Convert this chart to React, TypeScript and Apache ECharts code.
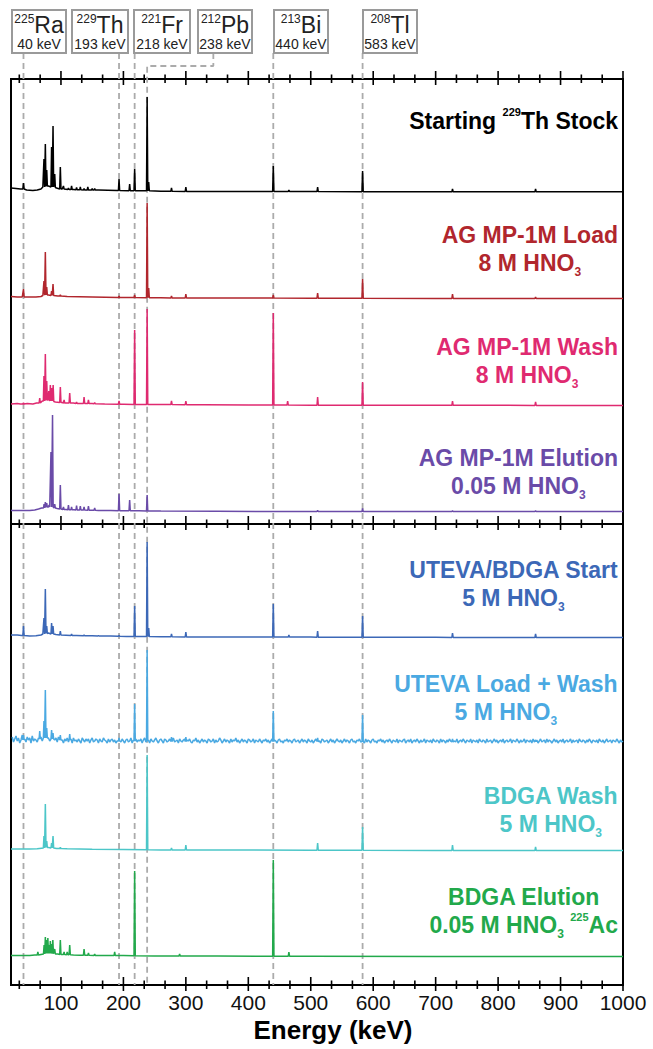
import React, { useEffect, useRef } from 'react';
import * as echarts from 'echarts';

const FONT = '"Liberation Sans", Arial, Helvetica, sans-serif';

// ---------- axis ----------
const energyMin = 20;
const energyMax = 1000;
const tickValues = [100, 200, 300, 400, 500, 600, 700, 800, 900, 1000];
const minorTickValues = [33.3, 66.7, 133.3, 166.7, 233.3, 266.7, 333.3, 366.7, 433.3, 466.7, 533.3, 566.7, 633.3, 666.7, 733.3, 766.7, 833.3, 866.7, 933.3, 966.7];
const axisTitle = 'Energy (keV)';

// ---------- reference lines / boxes ----------
const markerEnergies = [40, 193, 218, 238, 440, 583];
const markerMass = ['225', '229', '221', '212', '213', '208'];
const markerSymbol = ['Ra', 'Th', 'Fr', 'Pb', 'Bi', 'Tl'];
const pbLeaderEnergy = 344;

// ---------- spectra: background points [keV, rel. counts] and peaks [keV, local base, top] ----------
type Pt = [number, number];
type Peak = [number, number, number];

const stockBg: Pt[] = [[20, 4], [28, 3.5], [35, 3], [45, 2], [55, 1.5], [62, 2], [68, 3], [71, 5], [80, 6], [93, 4], [102, 3], [120, 2.5], [160, 2], [190, 1.5], [230, 1.2], [260, 0.8], [320, 0.5], [450, 0.4], [600, 0.3], [800, 0.2], [1000, 0.2]];
const stockPeaks: Peak[] = [[40, 3, 9], [72.8, 5, 33], [75, 5.5, 48], [77.2, 6, 22], [85, 5, 45], [87.3, 5, 66], [90, 4.5, 18], [99, 3, 25], [104, 3, 6], [112, 2.5, 4], [117, 2.5, 6], [125, 2.3, 4.5], [131, 2.2, 5], [137, 2.1, 3.5], [143, 2, 5], [150, 2, 3.5], [154, 2, 3.5], [193, 1.5, 13], [210, 1.3, 8], [218, 1.3, 23], [238, 1.2, 95], [240.5, 1.2, 10], [277, 0.7, 4], [300, 0.6, 5], [440, 0.4, 26], [465, 0.4, 2], [511, 0.4, 5], [583, 0.3, 21], [727, 0.2, 3], [860, 0.2, 3]];

const loadBg: Pt[] = [[20, 2.5], [30, 2], [38, 2], [50, 2], [60, 2], [68, 2.5], [71, 3.5], [80, 4], [95, 3], [110, 2.5], [150, 2], [200, 1.5], [260, 1.2], [350, 1], [500, 0.8], [700, 0.6], [1000, 0.5]];
const loadPeaks: Peak[] = [[40, 2, 10], [72.8, 3.8, 18], [75, 4, 47], [77.2, 4, 12], [85, 3.5, 8], [87.3, 3.5, 15], [99, 3, 4], [193, 1.5, 3], [218, 1.4, 4], [238, 1.3, 96], [240.5, 1.3, 11], [277, 1.1, 3], [300, 1, 5], [440, 0.9, 4], [511, 0.8, 6], [583, 0.7, 20], [727, 0.6, 5], [860, 0.5, 2]];

const washBg: Pt[] = [[20, 2], [30, 2.5], [35, 2], [46, 2.5], [55, 2], [61, 3], [70, 5], [91, 4], [102, 3.5], [109, 3], [120, 3], [130, 2.5], [150, 2.5], [170, 2], [200, 1.8], [228, 1.5], [260, 1.5], [330, 1.2], [400, 1], [500, 0.8], [700, 0.7], [1000, 0.6]];
const washPeaks: Peak[] = [[40, 2, 3], [66, 3, 8], [72.8, 5, 30], [75, 5.5, 52], [77.2, 6, 25], [80.5, 6, 15], [83, 5, 21], [85.3, 5, 18], [87.5, 4.5, 21], [99, 3.5, 19], [105, 3, 6], [114, 3, 13], [125, 2.5, 4], [137, 2.5, 9], [144, 2.5, 6], [154, 2.2, 3.5], [193, 1.8, 5], [218, 1.6, 76], [238, 1.5, 97], [277, 1.4, 5], [300, 1.3, 5], [440, 1, 93], [463, 0.9, 5], [511, 0.8, 9], [583, 0.8, 24], [727, 0.7, 5], [860, 0.6, 4]];

const elutionBg: Pt[] = [[20, 1.5], [35, 1.5], [50, 1.5], [58, 2], [64, 3], [69, 4], [79, 5.5], [94, 3.5], [108, 2.5], [121, 2.2], [160, 1.6], [180, 1.5], [200, 1.3], [225, 1.2], [260, 0.9], [350, 0.7], [500, 0.5], [700, 0.4], [1000, 0.4]];
const elutionPeaks: Peak[] = [[73, 4, 8], [75, 4.5, 10], [77.2, 5, 9], [81, 5, 7], [84, 5, 60], [86.5, 5, 97], [90, 4, 8], [99, 3, 27], [104, 2.5, 5], [112, 2.2, 7], [117, 2.2, 5], [125, 2, 6.5], [131, 2, 6], [137, 2, 5], [144, 1.8, 6], [154, 1.7, 4], [193, 1.3, 18], [210, 1.2, 12], [238, 1.1, 17], [511, 0.5, 1.8], [583, 0.5, 3.5], [727, 0.4, 1.2], [860, 0.4, 1.2]];

const utevaStartBg: Pt[] = [[20, 3], [30, 3], [37, 2.5], [50, 2], [60, 2.2], [68, 3], [71, 4], [80, 5], [92, 3.5], [108, 2.8], [125, 2.5], [150, 2.2], [180, 1.9], [205, 1.6], [228, 1.5], [260, 1.3], [350, 1], [500, 0.9], [700, 0.7], [1000, 0.5]];
const utevaStartPeaks: Peak[] = [[40, 2.5, 12], [72.8, 4, 20], [75, 4.5, 49], [77.2, 4.5, 12], [85, 4, 15], [87.3, 4, 12], [99, 3, 7], [117, 2.5, 4], [137, 2.2, 3], [160, 2, 2.5], [193, 1.7, 2.5], [218, 1.5, 32], [238, 1.4, 96], [240.5, 1.4, 10], [277, 1.2, 4], [300, 1.1, 6], [440, 0.9, 34], [465, 0.9, 3], [511, 0.8, 7], [583, 0.7, 22], [727, 0.6, 5], [860, 0.5, 4]];

// noisy Load + Wash trace, channels every 2 keV starting at 22 keV
const utevaLoadNoiseStart = 22;
const utevaLoadNoiseStep = 2;
const utevaLoadNoise = [
  6, 1, 4, 7, 2, 5, 0, 3, 8, 2, 4, 1, 6, 3, 5, 0, 7, 2, 4, 3,
  1, 5, 3, 6, 2, 4, 7, 1, 3, 5, 2, 6, 0, 4, 3, 5, 1, 6, 2, 4,
  3, 0, 4, 2, 5, 1, 3, 4, 0, 5, 2, 3, 1, 4, 2, 0, 5, 3, 1, 4,
  2, 4, 0, 3, 5, 1, 2, 4, 3, 0, 4, 2, 1, 5, 3, 2, 0, 4, 1, 3,
  4, 1, 3, 0, 2, 5, 3, 1, 4, 2, 0, 3, 4, 1, 2, 5, 0, 3, 2, 4,
  1, 3, 2, 4, 0, 3, 5, 1, 2, 3, 0, 4, 2, 1, 3, 5, 2, 0, 3, 4,
  2, 0, 4, 3, 1, 2, 4, 0, 3, 5, 1, 2, 3, 0, 4, 2, 1, 3, 4, 0,
  3, 2, 4, 1, 0, 3, 2, 5, 1, 3, 0, 2, 4, 1, 3, 2, 0, 4, 3, 1,
  2, 4, 0, 3, 1, 2, 5, 3, 0, 2, 4, 1, 3, 2, 0, 4, 1, 3, 2, 5,
  1, 3, 0, 2, 4, 1, 3, 2, 0, 4, 3, 1, 2, 4, 0, 3, 2, 1, 4, 2,
  0, 3, 2, 4, 1, 3, 0, 2, 4, 1, 3, 2, 0, 3, 4, 1, 2, 0, 3, 2,
  4, 1, 3, 2, 0, 3, 4, 1, 2, 3, 0, 2, 4, 1, 3, 2, 0, 4, 2, 1,
  3, 0, 2, 4, 1, 3, 2, 0, 4, 3, 1, 2, 3, 0, 2, 4, 1, 3, 0, 2,
  4, 2, 1, 3, 0, 2, 4, 1, 3, 2, 0, 3, 4, 1, 2, 0, 3, 2, 4, 1,
  2, 3, 0, 4, 1, 3, 2, 0, 3, 4, 1, 2, 0, 3, 2, 4, 1, 3, 0, 2,
  3, 1, 4, 2, 0, 3, 2, 1, 4, 0, 3, 2, 1, 3, 4, 0, 2, 3, 1, 4,
  0, 2, 3, 1, 4, 2, 0, 3, 1, 2, 4, 0, 3, 2, 1, 3, 0, 4, 2, 1,
  3, 2, 0, 4, 1, 3, 2, 0, 3, 1, 4, 2, 0, 3, 2, 1, 4, 0, 2, 3,
  1, 4, 2, 0, 3, 2, 1, 4, 0, 3, 2, 1, 3, 0, 4, 2, 1, 3, 2, 0,
  4, 1, 2, 3, 0, 2, 4, 1, 3, 0, 2, 3, 1, 4, 0, 2, 3, 1, 2, 4,
  0, 3, 2, 1, 4, 2, 0, 3, 1, 2, 4, 0, 3, 2, 1, 3, 0, 4, 1, 2,
  3, 0, 2, 4, 1, 2, 3, 0, 4, 1, 3, 2, 0, 2, 4, 1, 3, 0, 2, 3,
  1, 4, 0, 2, 3, 1, 2, 4, 0, 3, 1, 2, 3, 0, 4, 2, 1, 3, 2, 0,
  3, 1, 4, 2, 0, 3, 2, 1, 3, 0, 4, 2, 1, 3, 0, 2, 4, 1, 2, 3,
  0, 3, 2, 1, 4, 2, 0, 3, 1, 2,
];
const utevaLoadPeaks: Peak[] = [[40, 3, 8], [66, 4, 12], [72.8, 5, 22], [75, 5, 53], [77.2, 5, 15], [85, 4, 13], [87.3, 4, 10], [99, 3, 8], [114, 3, 9], [193, 2, 5], [218, 2, 39], [238, 2, 93], [277, 1.5, 6], [300, 1.5, 6], [440, 1.5, 32], [511, 1.5, 5], [583, 1.5, 28], [727, 1.2, 4], [860, 1.2, 3]];

const bdgaWashBg: Pt[] = [[20, 2], [35, 2], [50, 2], [62, 2.2], [69, 2.8], [80, 3.5], [93, 2.5], [110, 2.2], [150, 1.8], [200, 1.5], [260, 1.1], [350, 1], [500, 0.8], [700, 0.6], [1000, 0.5]];
const bdgaWashPeaks: Peak[] = [[72.8, 3, 15], [75, 3.5, 47], [77.2, 3.5, 10], [85, 3, 8], [87.3, 3, 15], [99, 2.5, 3.5], [238, 1.2, 96], [277, 1, 3], [300, 1, 6], [511, 0.8, 8], [583, 0.7, 24], [727, 0.6, 6], [860, 0.5, 4]];

const bdgaElutionBg: Pt[] = [[20, 1.5], [35, 1.5], [50, 1.5], [58, 2], [68, 2.5], [95, 3], [120, 2], [130, 1.8], [165, 1.6], [200, 1.4], [250, 1.1], [350, 0.9], [500, 0.8], [700, 0.6], [1000, 0.5]];
const bdgaElutionPeaks: Peak[] = [[63, 2, 5], [73, 3, 12], [75, 3.5, 20], [77, 3.5, 17], [79, 3.5, 19], [81, 3.5, 12], [83, 3.5, 16], [85, 3.2, 13], [87, 3.2, 17], [90, 3, 8], [99, 2.5, 17], [105, 2.5, 5], [110, 2.3, 5], [114, 2.2, 12], [137, 1.8, 8], [144, 1.8, 4], [154, 1.6, 3], [186, 1.4, 5], [218, 1.3, 86], [290, 1, 3], [440, 0.8, 97], [465, 0.8, 5]];

// ---------- panel labels ----------
const panelLabels = [
  '{t|Starting }{sup|229}{t|Th Stock}',
  '{t|AG MP-1M Load}\n{t|8 M HNO}{sub|3}',
  '{t|AG MP-1M Wash}\n{t|8 M HNO}{sub|3}',
  '{t|AG MP-1M Elution}\n{t|0.05 M HNO}{sub|3}',
  '{t|UTEVA/BDGA Start}\n{t|5 M HNO}{sub|3}',
  '{t|UTEVA Load + Wash}\n{t|5 M HNO}{sub|3}',
  '{t|BDGA Wash}\n{t|5 M HNO}{sub|3}',
  '{t|BDGA Elution}\n{t|0.05 M HNO}{sub|3}{t| }{sup|225}{t|Ac}',
];
const panelColors = ['#000000', '#b1262d', '#df2a70', '#6a4ba8', '#3c68b7', '#4aa9e2', '#4cc6c8', '#22a94b'];

// ---------- layout (pixels) ----------
const PLOT_LEFT = 11;
const PLOT_RIGHT = 623;
const FRAME_TOP = 79;
const FRAME_MID = 524;
const FRAME_BOTTOM = 985;
const TICK_LINES = [FRAME_TOP, FRAME_MID, FRAME_BOTTOM];
const MAJ_OUT = 8, MAJ_IN = 6, MIN_OUT = 4.5, MIN_IN = 4;
const GUIDE_TOP = 53;
const PB_ELBOW = 13;
const panelBaselineY = [192, 299, 406, 512, 638, 743, 851, 957];
const panelLabelY = [121, 249, 361, 472, 584, 698, 810, 911];
const LABEL_RIGHT = 618;
const boxLeft = [12, 72, 134, 198, 274, 363];
const boxWidth = [54, 56, 56, 54, 54, 54];
const BOX_TOP = 10;
const BOX_H = 43;
const PANEL_H = 100;
const PEAK_HALF_WIDTH = 1;
const GUIDE_GRID = 2;

function buildTrace(bg: Pt[], peaks: Peak[]): Pt[] {
  const pts: Pt[] = bg.filter(([e]) => !peaks.some(([p]) => Math.abs(e - p) <= PEAK_HALF_WIDTH + 0.2));
  for (const [e, b, t] of peaks) {
    pts.push([e - PEAK_HALF_WIDTH, b], [e, t], [e + PEAK_HALF_WIDTH, b]);
  }
  return pts.sort((a, b) => a[0] - b[0]);
}

const utevaLoadBg: Pt[] = utevaLoadNoise.map((v, i) => [utevaLoadNoiseStart + i * utevaLoadNoiseStep, v] as Pt);

const traces: Pt[][] = [
  buildTrace(stockBg, stockPeaks),
  buildTrace(loadBg, loadPeaks),
  buildTrace(washBg, washPeaks),
  buildTrace(elutionBg, elutionPeaks),
  buildTrace(utevaStartBg, utevaStartPeaks),
  buildTrace(utevaLoadBg, utevaLoadPeaks),
  buildTrace(bdgaWashBg, bdgaWashPeaks),
  buildTrace(bdgaElutionBg, bdgaElutionPeaks),
];

function buildElements(): any[] {
  const elements: any[] = [];
  markerEnergies.forEach((e, i) => {
    const cx = boxLeft[i] + boxWidth[i] / 2;
    elements.push({
      type: 'rect', shape: { x: boxLeft[i], y: BOX_TOP, width: boxWidth[i], height: BOX_H },
      style: { fill: '#fff', stroke: '#9a9a9a', lineWidth: 2 }, z: 10,
    });
    elements.push({
      type: 'text', x: cx, y: BOX_TOP + 15, z: 11,
      style: {
        text: `{sup|${markerMass[i]}}{el|${markerSymbol[i]}}`,
        align: 'center', verticalAlign: 'middle', textAlign: 'center', textVerticalAlign: 'middle',
        fill: '#222', fontFamily: FONT,
        rich: {
          sup: { fontSize: 12, lineHeight: 17, verticalAlign: 'top', fill: '#222', fontFamily: FONT },
          el: { fontSize: 23, lineHeight: 24, fill: '#222', fontFamily: FONT },
        },
      },
    });
    elements.push({
      type: 'text', x: cx, y: BOX_TOP + 33.5, z: 11,
      style: {
        text: `${e} keV`, align: 'center', verticalAlign: 'middle', textAlign: 'center', textVerticalAlign: 'middle',
        fill: '#222', fontSize: 14, fontFamily: FONT,
      },
    });
  });
  panelLabels.forEach((txt, i) => {
    const c = panelColors[i];
    elements.push({
      type: 'text', x: LABEL_RIGHT, y: panelLabelY[i], z: 12,
      style: {
        text: txt, align: 'right', verticalAlign: 'middle', textAlign: 'right', textVerticalAlign: 'middle',
        fill: c, fontFamily: FONT, fontWeight: 'bold', fontSize: 23,
        rich: {
          t: { fontSize: 23, fontWeight: 'bold', lineHeight: 28.5, align: 'center', fill: c, fontFamily: FONT },
          sup: { fontSize: 11, fontWeight: 'bold', lineHeight: 23.5, verticalAlign: 'top', align: 'center', fill: c, fontFamily: FONT },
          sub: { fontSize: 12, fontWeight: 'bold', lineHeight: 14.5, verticalAlign: 'bottom', align: 'center', fill: c, fontFamily: FONT },
        },
      },
    });
  });
  return elements;
}

function buildOption() {
  const plotWidth = PLOT_RIGHT - PLOT_LEFT;
  const gridBase = { left: PLOT_LEFT, width: plotWidth, outerBoundsMode: 'none', containLabel: false };
  const grids: any[] = [];
  const xAxes: any[] = [];
  const yAxes: any[] = [];
  const series: any[] = [];
  const xBase = { type: 'value', min: energyMin, max: energyMax, splitNumber: 10, splitLine: { show: false } };

  const addGrid = (g: any, x: any, yMax = 1, yInverse = false) => {
    const gi = grids.length;
    grids.push({ ...gridBase, ...g });
    xAxes.push({ ...xBase, gridIndex: gi, ...x });
    yAxes.push({ type: 'value', gridIndex: gi, min: 0, max: yMax, inverse: yInverse, show: false });
    return gi;
  };

  addGrid({ top: FRAME_TOP, height: FRAME_MID - FRAME_TOP, show: true, borderColor: '#000', borderWidth: 2, backgroundColor: 'transparent' }, { show: false });
  addGrid(
    { top: FRAME_MID, height: FRAME_BOTTOM - FRAME_MID, show: true, borderColor: '#000', borderWidth: 2, backgroundColor: 'transparent' },
    {
      position: 'bottom',
      axisLine: { show: true, onZero: false, lineStyle: { color: '#000', width: 2 } },
      axisTick: { show: false },
      minorTick: { show: false },
      axisLabel: { show: true, customValues: tickValues, margin: 7, fontSize: 21, color: '#111', fontFamily: FONT, formatter: (v: number) => String(v) },
      name: axisTitle,
      nameLocation: 'middle',
      nameGap: 32,
      nameTextStyle: { fontSize: 26, fontWeight: 'bold', color: '#000', fontFamily: FONT, padding: [0, 0, 0, 32] },
    },
  );

  const guideH = FRAME_BOTTOM - GUIDE_TOP;
  addGrid({ top: GUIDE_TOP, height: guideH }, { show: false }, guideH, true); // index GUIDE_GRID
  markerEnergies.forEach((e, i) => {
    const data = markerSymbol[i] === 'Pb'
      ? [[pbLeaderEnergy, 0], [pbLeaderEnergy, PB_ELBOW], [e, PB_ELBOW], [e, guideH]]
      : [[e, 0], [e, guideH]];
    series.push({
      type: 'line', xAxisIndex: GUIDE_GRID, yAxisIndex: GUIDE_GRID, data, symbol: 'none', silent: true, clip: false, z: 1,
      lineStyle: { color: '#ababab', width: 1.8, type: [6, 4] },
    });
  });

  traces.forEach((tr, i) => {
    const gi = addGrid({ top: panelBaselineY[i] - PANEL_H, height: PANEL_H }, { show: false }, PANEL_H);
    series.push({
      type: 'line', name: panelLabels[i], xAxisIndex: gi, yAxisIndex: gi, data: tr, symbol: 'none', showSymbol: false,
      silent: true, clip: false, z: 3, lineStyle: { color: panelColors[i], width: 1.5 },
    });
  });

  return {
    animation: false,
    backgroundColor: '#fff',
    textStyle: { fontFamily: FONT },
    grid: grids,
    xAxis: xAxes,
    yAxis: yAxes,
    series,
    graphic: { elements: buildElements() },
  };
}

export default function App() {
  const ref = useRef<HTMLDivElement>(null);
  useEffect(() => {
    if (!ref.current) return;
    const chart = echarts.init(ref.current, null, { renderer: 'svg' });
    chart.setOption(buildOption() as any);
    // crossing tick marks on the three frame lines, positioned through the energy scale
    const elements = buildElements();
    TICK_LINES.forEach((y) => {
      const addTick = (v: number, out: number, inn: number) => {
        const p = chart.convertToPixel({ gridIndex: GUIDE_GRID } as any, [v, y - GUIDE_TOP]) as number[];
        if (!p) return;
        elements.push({
          type: 'line', z: 20, silent: true,
          shape: { x1: p[0], y1: p[1] - out, x2: p[0], y2: p[1] + inn },
          style: { stroke: '#000', lineWidth: 1.6 },
        });
      };
      tickValues.forEach((v) => addTick(v, MAJ_OUT, MAJ_IN));
      minorTickValues.forEach((v) => addTick(v, MIN_OUT, MIN_IN));
    });
    chart.setOption({ graphic: { elements } } as any);
    return () => chart.dispose();
  }, []);
  return (
    <div
      ref={ref}
      style={{ position: 'fixed', left: 0, top: 0, width: 653, height: 1049, background: '#fff' }}
    />
  );
}
